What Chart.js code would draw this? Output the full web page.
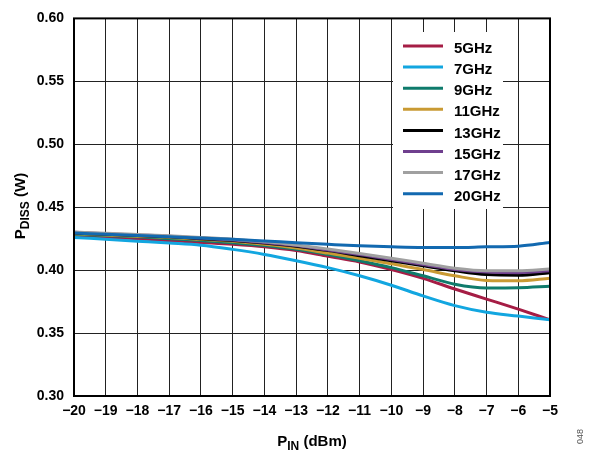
<!DOCTYPE html>
<html>
<head>
<meta charset="utf-8">
<script src="https://cdn.jsdelivr.net/npm/chart.js@4.4.0/dist/chart.umd.min.js"></script>
<style>
  html, body { margin: 0; padding: 0; background: #fff; }
  #wrap { width: 591px; height: 454px; position: relative; }
</style>
</head>
<body>
<div id="wrap"><canvas id="pdissChart"></canvas></div>
<script>
// input power, dBm
const pin = [-20, -19, -18, -17, -16, -15, -14, -13, -12, -11, -10, -9, -8, -7, -6, -5];

// dissipated power (W) per frequency
const p5GHz  = [0.427, 0.426, 0.425, 0.4235, 0.422, 0.4205, 0.4185, 0.4155, 0.411, 0.4065, 0.4005, 0.3935, 0.385, 0.377, 0.369, 0.3605];
const p7GHz  = [0.426, 0.4245, 0.423, 0.4215, 0.4198, 0.4165, 0.4125, 0.4075, 0.402, 0.3955, 0.388, 0.3795, 0.3718, 0.3665, 0.3635, 0.3605];
const p9GHz  = [0.4285, 0.4275, 0.4265, 0.425, 0.4235, 0.4218, 0.4195, 0.4165, 0.4125, 0.4075, 0.402, 0.3955, 0.3888, 0.3858, 0.386, 0.3872];
const p11GHz = [0.429, 0.428, 0.427, 0.426, 0.4245, 0.423, 0.4205, 0.4175, 0.4135, 0.4095, 0.405, 0.4005, 0.3955, 0.3918, 0.3915, 0.3935];
const p13GHz = [0.4295, 0.4285, 0.4275, 0.4265, 0.425, 0.4235, 0.4215, 0.419, 0.4155, 0.4115, 0.4075, 0.4035, 0.3995, 0.3965, 0.396, 0.398];
const p15GHz = [0.43, 0.429, 0.428, 0.427, 0.4255, 0.424, 0.422, 0.4195, 0.416, 0.4125, 0.4085, 0.4045, 0.4005, 0.3985, 0.398, 0.3995];
const p17GHz = [0.4302, 0.4293, 0.4283, 0.4273, 0.426, 0.4245, 0.4225, 0.42, 0.4168, 0.4133, 0.4095, 0.4055, 0.4015, 0.3995, 0.3995, 0.401];
const p20GHz = [0.4295, 0.4285, 0.4275, 0.4265, 0.4255, 0.4245, 0.4232, 0.4218, 0.4205, 0.4193, 0.4185, 0.418, 0.418, 0.4185, 0.419, 0.422];

const seriesNames = ['5GHz', '7GHz', '9GHz', '11GHz', '13GHz', '15GHz', '17GHz', '20GHz'];
const seriesData = [p5GHz, p7GHz, p9GHz, p11GHz, p13GHz, p15GHz, p17GHz, p20GHz];
const seriesColors = ['#a51d45', '#12a6e0', '#0f7b6c', '#c99a33', '#000000', '#6f3f8e', '#a0a0a0', '#1269b0'];

const yTicks = [0.30, 0.35, 0.40, 0.45, 0.50, 0.55, 0.60];

const FONT = 'Liberation Sans, Arial, sans-serif';

const datasets = seriesNames.map((name, i) => ({
    label: name,
    data: pin.map((x, j) => ({ x: x, y: seriesData[i][j] })),
    borderColor: seriesColors[i],
    backgroundColor: seriesColors[i],
    borderWidth: 3,
    pointRadius: 0,
    cubicInterpolationMode: 'monotone',
    fill: false,
    order: seriesNames.length - i
}));

// legend box inside the plot, covers the grid
const insideLegend = {
    id: 'insideLegend',
    beforeDatasetsDraw(chart) {
        const ctx = chart.ctx;
        ctx.save();
        ctx.fillStyle = '#fff';
        ctx.fillRect(393, 32, 110, 177);
        ctx.font = 'bold 15px ' + FONT;
        ctx.textBaseline = 'middle';
        ctx.textAlign = 'left';
        seriesNames.forEach((name, i) => {
            const y = 49 + i * 21.1;
            ctx.strokeStyle = seriesColors[i];
            ctx.lineWidth = 3;
            ctx.beginPath();
            ctx.moveTo(403, y - 3);
            ctx.lineTo(443, y - 3);
            ctx.stroke();
            ctx.fillStyle = '#000';
            ctx.fillText(name, 454, y);
        });
        ctx.restore();
    }
};

// frame, axis titles with subscripts, figure number
const decorations = {
    id: 'decorations',
    afterDraw(chart) {
        const ctx = chart.ctx;
        const a = chart.chartArea;
        ctx.save();
        ctx.strokeStyle = '#000';
        ctx.lineWidth = 2;
        ctx.strokeRect(a.left, a.top, a.right - a.left, a.bottom - a.top);

        ctx.fillStyle = '#000';
        ctx.textBaseline = 'alphabetic';

        // x title: P_IN (dBm)
        const big = 'bold 15px ' + FONT;
        const small = 'bold 12px ' + FONT;
        ctx.font = big;
        const wP = ctx.measureText('P').width;
        const wRest = ctx.measureText(' (dBm)').width;
        ctx.font = small;
        const wIN = ctx.measureText('IN').width;
        let x0 = (a.left + a.right) / 2 - (wP + wIN + wRest) / 2;
        const yb = 446;
        ctx.font = big;
        ctx.fillText('P', x0, yb);
        ctx.font = small;
        ctx.fillText('IN', x0 + wP, yb + 4);
        ctx.font = big;
        ctx.fillText(' (dBm)', x0 + wP + wIN, yb);

        // y title: P_DISS (W)
        ctx.save();
        ctx.translate(25, 206);
        ctx.rotate(-Math.PI / 2);
        ctx.font = small;
        const wD = ctx.measureText('DISS').width;
        ctx.font = big;
        const wW = ctx.measureText(' (W)').width;
        x0 = -(wP + wD + wW) / 2;
        ctx.fillText('P', x0, 0);
        ctx.font = small;
        ctx.fillText('DISS', x0 + wP, 4);
        ctx.font = big;
        ctx.fillText(' (W)', x0 + wP + wD, 0);
        ctx.restore();

        // figure number
        ctx.save();
        ctx.translate(583, 444);
        ctx.rotate(-Math.PI / 2);
        ctx.font = '9px ' + FONT;
        ctx.fillStyle = '#555';
        ctx.fillText('048', 0, 0);
        ctx.restore();

        ctx.restore();
    }
};

new Chart(document.getElementById('pdissChart').getContext('2d'), {
    type: 'line',
    data: { datasets: datasets },
    options: {
        responsive: true,
        maintainAspectRatio: false,
        animation: false,
        layout: { padding: { left: 0, right: 41, top: 15, bottom: 0 } },
        plugins: {
            legend: { display: false },
            tooltip: { enabled: false }
        },
        scales: {
            x: {
                type: 'linear',
                min: -20,
                max: -5,
                afterBuildTicks: (scale) => {
                    scale.ticks = pin.map(v => ({ value: v }));
                },
                afterFit: (scale) => { scale.height = 58; },
                grid: { color: '#222', lineWidth: 1, drawTicks: false },
                border: { display: false },
                ticks: {
                    padding: 7,
                    maxRotation: 0,
                    autoSkip: false,
                    color: '#000',
                    font: { family: FONT, size: 14, weight: 'bold' },
                    callback: (v) => String(v).replace('-', '\u2212')
                }
            },
            y: {
                min: 0.30,
                max: 0.60,
                afterBuildTicks: (scale) => {
                    scale.ticks = yTicks.map(v => ({ value: v }));
                },
                afterFit: (scale) => { scale.width = 74; },
                grid: { color: '#222', lineWidth: 1, drawTicks: false },
                border: { display: false },
                ticks: {
                    padding: 10,
                    color: '#000',
                    font: { family: FONT, size: 14, weight: 'bold' },
                    callback: (v) => Number(v).toFixed(2)
                }
            }
        }
    },
    plugins: [insideLegend, decorations]
});
</script>
</body>
</html>
